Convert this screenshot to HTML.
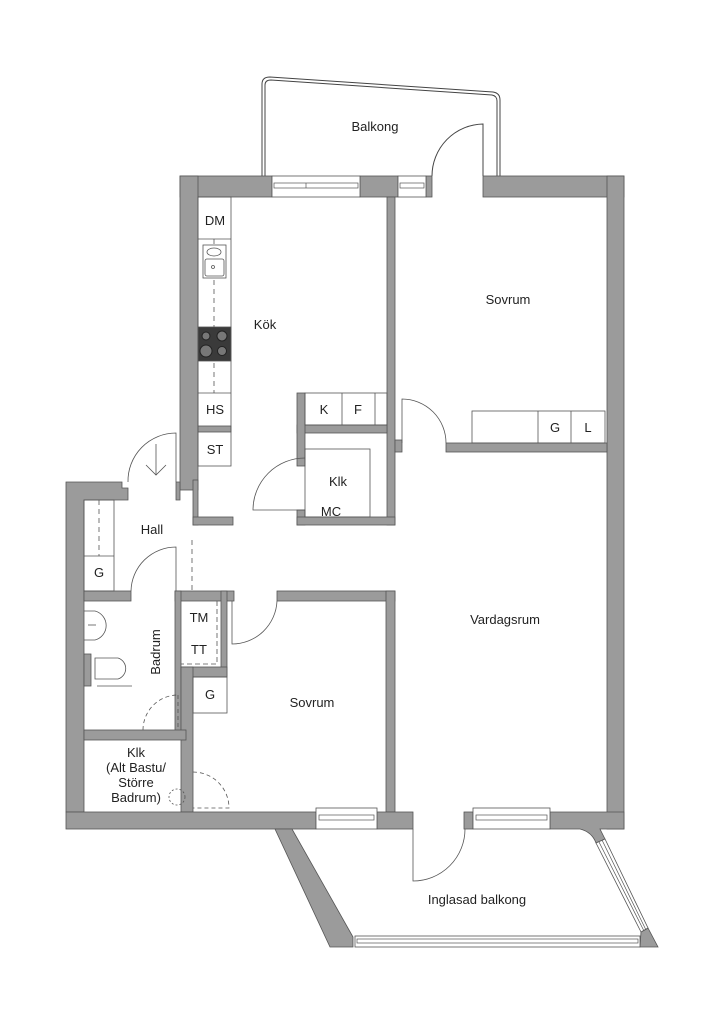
<!DOCTYPE html>
<html><head><meta charset="utf-8"><style>
html,body{margin:0;padding:0;background:#fff;}
svg{display:block;}
text{font-family:"Liberation Sans",sans-serif;font-size:13px;fill:#222;}
</style></head><body>
<svg width="724" height="1024" viewBox="0 0 724 1024" xmlns="http://www.w3.org/2000/svg">
<g fill="none" stroke="#444" stroke-width="1">
<path d="M262 176 V84 Q262 77 270 77 L493 92 Q500 93 500 100 V176"/>
<path d="M265 176 V85 Q265 80 271 80 L492 95 Q497 96 497 101 V176"/>
<path d="M483 176 V124 A52 52 0 0 0 432 176"/>
</g>
<g fill="#9b9b9b" stroke="#555" stroke-width="0.8">
<rect x="180" y="176" width="92" height="21"/>
<rect x="360" y="176" width="38" height="21"/>
<rect x="426" y="176" width="6" height="21"/>
<rect x="483" y="176" width="141" height="21"/>
<rect x="607" y="176" width="17" height="653"/>
<rect x="180" y="176" width="18" height="314"/>
<rect x="193" y="480" width="5" height="45"/>
<rect x="193" y="517" width="40" height="8"/>
<rect x="387" y="197" width="8" height="328"/>
<rect x="395" y="440" width="7" height="12"/>
<rect x="446" y="443" width="161" height="9"/>
<rect x="198" y="426" width="33" height="6"/>
<rect x="297" y="425" width="90" height="8"/>
<rect x="297" y="393" width="8" height="73"/>
<rect x="297" y="510" width="8" height="15"/>
<rect x="297" y="517" width="98" height="8"/>
<path d="M66 482 H122 V488 H128 V500 H84 V812 H66 Z"/>
<path d="M176 482 H180 V500 H176 Z"/>
<rect x="84" y="654" width="7" height="32"/>
<rect x="84" y="591" width="47" height="10"/>
<rect x="175" y="591" width="59" height="10"/>
<rect x="175" y="591" width="6" height="145"/>
<rect x="221" y="591" width="6" height="85"/>
<rect x="181" y="667" width="46" height="10"/>
<rect x="181" y="667" width="12" height="145"/>
<rect x="84" y="730" width="102" height="10"/>
<rect x="277" y="591" width="118" height="10"/>
<rect x="386" y="591" width="9" height="221"/>
<rect x="66" y="812" width="250" height="17"/>
<rect x="377" y="812" width="36" height="17"/>
<rect x="464" y="812" width="9" height="17"/>
<path d="M550 812 H624 V829 H600 L605 839 L596 843 Q592 832 580 829 H550 Z"/>
<path d="M275 829 H292 L353 937 V947 H330 Z"/>
<path d="M641 932 L648 928 L658 947 H640 Z"/>
<rect x="198" y="327" width="33" height="34" fill="#3a3a3a"/>
</g>
<g fill="#fff" stroke="#555" stroke-width="0.8">
<rect x="272" y="176" width="88" height="21"/>
<rect x="398" y="176" width="28" height="21"/>
<rect x="316" y="808" width="61" height="21"/>
<rect x="473" y="808" width="77" height="21"/>
<rect x="355" y="936" width="285" height="11"/>
<polygon points="596,843 605,839 648,928 641,932"/>
</g>
<g stroke="#555" stroke-width="0.7" fill="none">
<rect x="274" y="183" width="84" height="5"/>
<line x1="306" y1="183" x2="306" y2="188"/>
<rect x="400" y="183" width="24" height="5"/>
<rect x="319" y="815" width="55" height="5"/>
<rect x="476" y="815" width="71" height="5"/>
<rect x="357" y="939" width="281" height="4"/>
<line x1="599" y1="842" x2="644" y2="931"/>
<line x1="602" y1="840" x2="646" y2="930"/>
</g>
<g fill="#777" stroke="#222" stroke-width="1">
<circle cx="206" cy="336" r="4"/><circle cx="222" cy="336" r="5"/>
<circle cx="206" cy="351" r="6"/><circle cx="222" cy="351" r="4.5"/>
</g>
<g fill="none" stroke="#555" stroke-width="0.8">
<rect x="198" y="197" width="33" height="269"/>
<line x1="198" y1="239" x2="231" y2="239"/>
<line x1="198" y1="393" x2="231" y2="393"/>
<rect x="203" y="245" width="23" height="33"/>
<rect x="205" y="259" width="19" height="17" rx="2"/>
<ellipse cx="214" cy="252" rx="7" ry="4"/>
<circle cx="213" cy="267" r="1.5"/>
<line x1="214" y1="239" x2="214" y2="245" stroke-dasharray="5,4"/>
<line x1="214" y1="280" x2="214" y2="327" stroke-dasharray="5,4"/>
<line x1="214" y1="363" x2="214" y2="393" stroke-dasharray="5,4"/>
<rect x="305" y="393" width="82" height="32"/>
<line x1="342" y1="393" x2="342" y2="425"/>
<line x1="375" y1="393" x2="375" y2="425"/>
<rect x="305" y="449" width="65" height="68"/>
<path d="M305 510 H253 A52 52 0 0 1 305 458"/>
<rect x="472" y="411" width="133" height="32"/>
<line x1="538" y1="411" x2="538" y2="443"/>
<line x1="571" y1="411" x2="571" y2="443"/>
<path d="M402 443 V399 A44 44 0 0 1 446 443"/>
<path d="M176 482 V433 A48 48 0 0 0 128 482"/>
<path d="M156 444 V475 M146 465 L156 475 L166 465"/>
<rect x="84" y="500" width="30" height="91"/>
<line x1="84" y1="556" x2="114" y2="556"/>
<line x1="99" y1="500" x2="99" y2="556" stroke-dasharray="5,4"/>
<line x1="192" y1="540" x2="192" y2="591" stroke-dasharray="5,4"/>
<path d="M176 591 V547 A45 45 0 0 0 131 591"/>
<path d="M217 601 V664 H181" stroke-dasharray="5,3"/>
<path d="M232 601 V644 A45 45 0 0 0 277 601"/>
<rect x="193" y="677" width="34" height="36"/>
<path d="M193 772 A36 36 0 0 1 229 808 H193" stroke-dasharray="4,3"/>
<path d="M84 611 H95 A15 15 0 0 1 95 640 H84"/>
<line x1="88" y1="625" x2="96" y2="625"/>
<path d="M95 658 H118 A11 11 0 0 1 118 679 H95 Z"/>
<line x1="97" y1="686" x2="132" y2="686"/>
<path d="M143 730 A35 35 0 0 1 178 695" stroke-dasharray="4,3"/>
<line x1="178" y1="695" x2="178" y2="730" stroke-dasharray="4,3"/>
<circle cx="177" cy="797" r="8" stroke-dasharray="2,2"/>
<path d="M413 829 V881 A52 52 0 0 0 465 829"/>
</g>
<text x="375" y="131" text-anchor="middle">Balkong</text>
<text x="215" y="225" text-anchor="middle">DM</text>
<text x="265" y="329" text-anchor="middle">Kök</text>
<text x="215" y="414" text-anchor="middle">HS</text>
<text x="215" y="454" text-anchor="middle">ST</text>
<text x="324" y="414" text-anchor="middle">K</text>
<text x="358" y="414" text-anchor="middle">F</text>
<text x="338" y="486" text-anchor="middle">Klk</text>
<text x="331" y="516" text-anchor="middle">MC</text>
<text x="508" y="304" text-anchor="middle">Sovrum</text>
<text x="555" y="432" text-anchor="middle">G</text>
<text x="588" y="432" text-anchor="middle">L</text>
<text x="152" y="534" text-anchor="middle">Hall</text>
<text x="99" y="577" text-anchor="middle">G</text>
<text x="199" y="622" text-anchor="middle">TM</text>
<text x="199" y="654" text-anchor="middle">TT</text>
<text x="210" y="699" text-anchor="middle">G</text>
<text x="160" y="652" text-anchor="middle" transform="rotate(-90 160 652)">Badrum</text>
<text x="312" y="707" text-anchor="middle">Sovrum</text>
<text x="505" y="624" text-anchor="middle">Vardagsrum</text>
<text x="136" y="757" text-anchor="middle">Klk</text>
<text x="136" y="772" text-anchor="middle">(Alt Bastu/</text>
<text x="136" y="787" text-anchor="middle">Större</text>
<text x="136" y="802" text-anchor="middle">Badrum)</text>
<text x="477" y="904" text-anchor="middle">Inglasad balkong</text>
</svg>
</body></html>
